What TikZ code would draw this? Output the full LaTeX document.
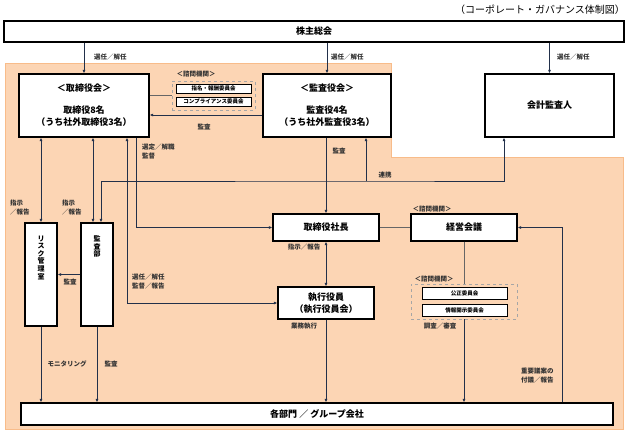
\documentclass[tikz,border=0pt]{standalone}
\usepackage{fontspec}
\setmainfont{Noto Sans CJK JP}
\usetikzlibrary{arrows.meta}
\definecolor{peach}{HTML}{FCD5B4}
\definecolor{peachline}{HTML}{F8BC8A}
\definecolor{ink}{HTML}{22304A}
\definecolor{lblc}{HTML}{333333}
\begin{document}
\begin{tikzpicture}[x=1pt,y=-1pt,
 box/.style={draw=black,line width=1.2pt,fill=white,inner sep=0pt,font=\fontsize{9}{12}\selectfont\bfseries,align=center},
 sbox/.style={draw=black,line width=0.9pt,fill=white,inner sep=0pt,font=\fontsize{5.5}{6}\selectfont\bfseries},
 dbox/.style={draw=gray!70,dashed,line width=0.9pt,inner sep=0pt},
 vtext/.style={font=\fontsize{7}{7.6}\selectfont\bfseries,align=center,inner sep=0pt},
 conn/.style={draw=ink,line width=0.8pt},
 arr/.style={conn,-{Latex[length=3.5pt,width=3pt]}},
 dbl/.style={conn,{Latex[length=3.5pt,width=3pt]}-{Latex[length=3.5pt,width=3pt]}},
 lbl/.style={font=\fontsize{6.5}{9}\selectfont\bfseries,text=lblc,inner sep=0pt,align=left},
]
\useasboundingbox (0,0) rectangle (629,440);
% background region
\fill[peach] (5,63) -- (391,63) -- (391,157) -- (623,157) -- (623,429) -- (5,429) -- cycle;
\draw[peachline,line width=1pt] (5,63) -- (391,63) -- (391,157) -- (623,157) -- (623,429) -- (5,429) -- cycle;

\node[anchor=east,font=\fontsize{10}{12}\selectfont,inner sep=0pt] (title) at (625,10) {（コーポレート・ガバナンス体制図）};

% main boxes
\node[box,minimum width=620pt,minimum height=21pt] (kabu) at (314,31.5) {株主総会};
\node[box,minimum width=130pt,minimum height=63pt] (tori) at (84,105.5) {＜取締役会＞\\[10pt]取締役8名\\（うち社外取締役3名）};
\node[box,minimum width=128pt,minimum height=63pt] (kansa) at (327,105.5) {＜監査役会＞\\[10pt]監査役4名\\（うち社外監査役3名）};
\node[box,minimum width=129pt,minimum height=63pt] (kaikei) at (549.5,105.5) {会計監査人};
\node[dbox,minimum width=83pt,minimum height=29pt] (shimon) at (213.5,95.5) {};
\node[sbox,minimum width=75pt,minimum height=9pt] (shimei) at (213.5,88.5) {指名・報酬委員会};
\node[sbox,minimum width=75pt,minimum height=9pt] (comp) at (213.5,101.5) {コンプライアンス委員会};
\node[box,minimum width=32pt,minimum height=103pt,label={[vtext,anchor=north,yshift=-13pt]north:リ\\ス\\ク\\管\\理\\室}] (risk) at (41,274.5) {};
\node[box,minimum width=32pt,minimum height=103pt,label={[vtext,anchor=north,yshift=-13pt]north:監\\査\\部}] (kbu) at (97,274.5) {};
\node[box,minimum width=106pt,minimum height=27pt] (shacho) at (326,227.5) {取締役社長};
\node[box,minimum width=106pt,minimum height=27pt] (keiei) at (464,227.5) {経営会議};
\node[box,minimum width=96pt,minimum height=32pt] (shikko) at (326,303) {執行役員\\（執行役員会）};
\node[dbox,minimum width=106pt,minimum height=35pt] (shimon2) at (464,301.5) {};
\node[sbox,minimum width=85pt,minimum height=12pt] (kosei) at (464.5,293.5) {公正委員会};
\node[sbox,minimum width=85pt,minimum height=12pt] (joho) at (464.5,310.5) {情報開示委員会};
\node[box,minimum width=592pt,minimum height=22pt] (bumon) at (317,414) {各部門 ／ グループ会社};

\coordinate (rk) at (366,181);

% connectors
\draw[arr] (kabu.south -| tori.north) -- (tori.north);
\draw[arr] (kabu.south -| kansa.north) -- (kansa.north);
\draw[arr] (kabu.south -| kaikei.north) -- (kaikei.north);
\draw[conn,draw=gray!80!black] (tori.east |- shimon.west) -- (shimon.west);
\draw[arr] ([yshift=-9.5pt]kansa.west) -- ([yshift=-9.5pt]tori.east);
\draw[dbl] (risk.north) -- (risk.north |- tori.south);
\draw[dbl] ([xshift=-4pt]kbu.north) -- ([xshift=-4pt]kbu.north |- tori.south);
\draw[dbl] ([xshift=43pt]tori.south) |- (shikko.west);
\draw[arr] ([xshift=52pt]tori.south) |- (shacho.west);
\draw[dbl] ([xshift=4pt]kbu.north) |- (rk) -| ([xshift=-45.5pt]kaikei.south);
\draw[arr] (rk) -- (rk |- kansa.south);
\draw[arr] (shacho.north |- kansa.south) -- (shacho.north);
\draw[dbl] (shacho.south) -- (shikko.north);
\draw[arr] (shikko.south) -- (shikko.south |- bumon.north);
\draw[conn,draw=gray!80!black] (shacho.east) -- (keiei.west);
\draw[conn,draw=gray!80!black] (keiei.south) -- (shimon2.north);
\draw[arr] (shimon2.south) -- (shimon2.south |- bumon.north);
\draw[arr] ([xshift=245pt]bumon.north) |- (keiei.east);
\draw[arr] (risk.south) -- (risk.south |- bumon.north);
\draw[arr] (kbu.south) -- (kbu.south |- bumon.north);
\draw[arr] (kbu.west) -- (risk.east);

% labels
\node[lbl,anchor=west] (l1) at (94,57) {選任／解任};
\node[lbl,anchor=west] (l2) at (331,57) {選任／解任};
\node[lbl,anchor=west] (l3) at (557,57) {選任／解任};
\node[lbl] (l4) at (196,74) {＜諮問機関＞};
\node[lbl] (l5) at (204,127) {監査};
\node[lbl,anchor=north west] (l6) at (142,144) {選定／解職\\監督};
\node[lbl] (l7) at (339,151) {監査};
\node[lbl] (l8) at (385,175) {連携};
\node[lbl,anchor=north west] (l9) at (10,200) {指示\\／報告};
\node[lbl,anchor=north west] (l10) at (62,200) {指示\\／報告};
\node[lbl] (l11) at (304,247) {指示／報告};
\node[lbl] (l12) at (432,209) {＜諮問機関＞};
\node[lbl] (l13) at (70,282) {監査};
\node[lbl,anchor=north west] (l14) at (132,274) {選任／解任\\監督／報告};
\node[lbl] (l15) at (434,279) {＜諮問機関＞};
\node[lbl] (l16) at (304,326) {業務執行};
\node[lbl] (l17) at (440,326) {調査／審査};
\node[lbl] (l18) at (67,364) {モニタリング};
\node[lbl] (l19) at (111,364) {監査};
\node[lbl,anchor=north west] (l20) at (521,368) {重要議案の\\付議／報告};
\end{tikzpicture}
\end{document}
